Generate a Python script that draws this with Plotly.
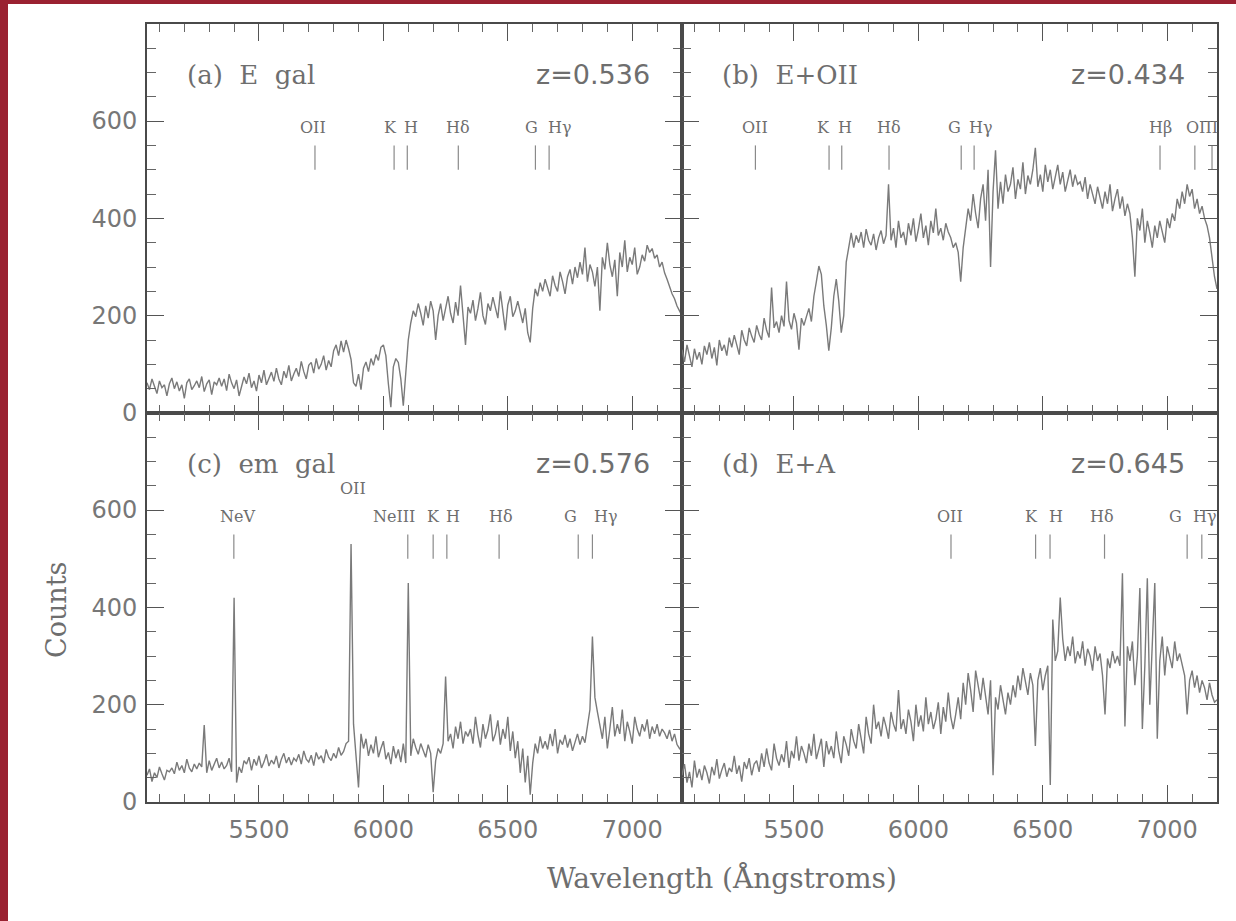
import numpy as np
import plotly.graph_objects as go

# ---------------- data ----------------
wl_start = 5050
wl_step = 10

counts_a = [62, 48, 70, 55, 40, 66, 52, 58, 35, 60,
            72, 50, 64, 45, 58, 30, 62, 70, 48, 56,
            66, 52, 75, 44, 60, 68, 38, 64, 58, 72,
            55, 70, 46, 80, 62, 50, 68, 35, 58, 74,
            60, 82, 52, 66, 45, 78, 62, 88, 58, 70,
            84, 65, 92, 70, 58, 86, 72, 98, 66, 80,
            92, 75, 106, 85, 70, 98, 104, 82, 112, 90,
            100, 118, 88, 108, 95, 128, 140, 118, 148, 125,
            150, 132, 110, 62, 55, 80, 48, 92, 105, 85,
            112, 98, 120, 108, 135, 140, 118, 60, 12, 95,
            112, 104, 70, 15, 90, 150, 185, 210, 198, 225,
            205, 180, 220, 195, 230, 210, 150, 200, 225, 190,
            215, 240, 205, 185, 228, 200, 262, 195, 140, 218,
            205, 232, 190, 215, 248, 200, 182, 225, 210, 238,
            215, 195, 250, 205, 170, 222, 240, 198, 210, 230,
            205, 185, 215, 165, 145, 215, 255, 240, 268, 250,
            275, 258, 240, 282, 262, 250, 290, 270, 245, 280,
            295, 265, 300, 278, 310, 285, 340, 270, 305, 290,
            260, 300, 210, 320, 295, 350, 305, 280, 315, 240,
            330, 300, 355, 290, 320, 305, 340, 285, 300, 325,
            312, 345, 330, 338, 318, 325, 300, 310, 288, 275,
            260, 245, 235, 220, 210, 200]

counts_b = [130, 105, 140, 118, 95, 132, 110, 125, 100, 138,
            120, 145, 112, 135, 98, 150, 128, 140, 118, 155,
            135, 160, 142, 120, 170, 150, 138, 175, 158, 145,
            180, 162, 150, 195, 170, 155, 258, 175, 188, 165,
            200, 178, 270, 190, 172, 205, 185, 130, 195, 180,
            198, 215, 188, 240, 270, 302, 285, 220, 180, 128,
            175, 240, 275, 230, 165, 200, 310, 345, 370, 340,
            365, 350, 372, 340, 378, 355, 345, 368, 335, 360,
            375, 348, 365, 470, 355, 380, 340, 395, 360, 372,
            345, 390, 365, 400, 352, 378, 410, 360, 385, 345,
            395, 370, 420, 365, 380, 355, 390, 372, 360, 340,
            350, 330, 270, 340, 380, 420, 395, 450, 410, 380,
            440, 470, 395, 500, 300, 455, 540, 420, 475, 430,
            490, 455, 470, 505, 440, 480, 460, 515, 450, 488,
            470, 500, 545, 465, 490, 455, 510, 475, 500, 460,
            485, 510, 470, 495, 455, 480, 500, 465, 490, 470,
            475, 455, 485, 440, 470, 450, 430, 465, 445, 420,
            455, 430, 470, 415, 440, 460, 420, 445, 405, 430,
            410, 360, 280, 400, 375, 420, 350, 395, 370, 340,
            385, 360, 395, 375, 350, 400, 380, 410, 395, 440,
            420, 455, 430, 470, 445, 460, 420, 440, 410, 425,
            400, 385, 360, 320, 280, 255]

counts_c = [55, 68, 42, 60, 50, 72, 58, 45, 65, 62,
            70, 58, 82, 65, 75, 60, 88, 70, 62, 78,
            68, 80, 72, 158, 60, 85, 65, 78, 90, 70,
            82, 68, 75, 90, 62, 420, 40, 72, 60, 85,
            78, 92, 65, 88, 75, 95, 70, 82, 98, 74,
            86, 78, 95, 70, 88, 100, 80, 92, 76, 90,
            84, 98, 78, 105, 88, 82, 96, 75, 102, 88,
            95, 80, 108, 92, 85, 100, 90, 112, 96, 104,
            120, 125, 530, 160, 85, 30, 140, 110, 130, 95,
            118, 100, 135, 92, 110, 125, 88, 102, 78, 115,
            90, 108, 82, 120, 80, 450, 95, 130, 112, 98,
            120, 105, 92, 118, 100, 20, 85, 110, 100, 120,
            258, 125, 140, 110, 155, 130, 165, 120, 145, 135,
            150, 120, 175, 138, 112, 160, 130, 148, 180, 125,
            140, 168, 118, 150, 130, 175, 105, 145, 90, 125,
            60, 110, 40, 95, 15, 80, 120, 100, 135, 110,
            125, 108, 140, 115, 150, 100, 128, 118, 138, 112,
            130, 105, 125, 140, 118, 135, 122, 160, 190, 340,
            215, 185, 160, 130, 175, 110, 150, 195, 135, 160,
            140, 190, 125, 165, 145, 120, 175, 150, 135, 160,
            145, 170, 130, 155, 140, 160, 135, 150, 142, 130,
            148, 125, 140, 118, 110, 105]

counts_d = [55, 78, 40, 62, 30, 85, 50, 68, 45, 75,
            60, 38, 72, 55, 88, 48, 66, 80, 52, 70,
            62, 95, 58, 75, 42, 82, 68, 90, 55, 78,
            85, 62, 100, 72, 110, 80, 65, 120, 90, 75,
            98, 82, 125, 70, 105, 90, 135, 85, 115, 100,
            80, 120, 95, 140, 88, 110, 130, 72, 125, 98,
            115, 90, 145, 105, 80, 135, 118, 95, 150, 125,
            110, 160, 130, 100, 175, 140, 120, 200, 150, 165,
            135, 175, 155, 130, 185, 160, 145, 230, 150, 170,
            140, 190, 165, 125, 200, 155, 178, 145, 215, 160,
            185, 150, 170, 205, 140, 195, 165, 225, 175, 150,
            180, 215, 170, 245, 200, 265, 230, 185, 270, 240,
            210, 255, 220, 180, 250, 55, 215, 190, 240, 205,
            180, 225, 200, 240, 215, 260, 230, 275, 245, 220,
            265, 240, 115, 250, 275, 230, 260, 280, 35, 375,
            290, 310, 420, 335, 290, 320, 300, 340, 285, 310,
            295, 330, 280, 315, 300, 270, 320, 290, 305, 260,
            180, 295, 275, 310, 285, 300, 280, 470, 155, 320,
            290, 330, 240, 300, 440, 150, 280, 460, 200, 310,
            450, 130, 290, 340, 260, 320, 300, 275, 330, 290,
            305, 280, 260, 180, 250, 270, 235, 260, 225, 250,
            235, 210, 245, 220, 205, 210]

panel_titles = ["(a)  E  gal", "(b)  E+OII", "(c)  em  gal", "(d)  E+A"]
redshift_labels = ["z=0.536", "z=0.434", "z=0.576", "z=0.645"]

# observed positions of the marked spectral features (Angstrom)
mark_wl_a = [5725, 6043, 6096, 6301, 6611, 6666]
mark_wl_b = [5345, 5641, 5692, 5882, 6172, 6224, 6971, 7111, 7180]
mark_wl_c = [5399, 6098, 6200, 6255, 6465, 6783, 6840]
mark_wl_d = [6131, 6471, 6529, 6748, 7080, 7139]

label_txt_a = ["OII", "K", "H", "Hδ", "G", "Hγ"]
label_wl_a = [5718, 6027, 6111, 6301, 6597, 6708]
label_txt_b = ["OII", "K", "H", "Hδ", "G", "Hγ", "Hβ", "OIII"]
label_wl_b = [5345, 5619, 5705, 5882, 6147, 6252, 6971, 7140]
label_txt_c = ["NeV", "OII", "NeIII", "K", "H", "Hδ", "G", "Hγ"]
label_wl_c = [5415, 5876, 6041, 6202, 6278, 6471, 6750, 6895]
label_lev_c = [586, 645, 586, 586, 586, 586, 586, 586]
label_txt_d = ["OII", "K", "H", "Hδ", "G", "Hγ"]
label_wl_d = [6125, 6453, 6553, 6738, 7035, 7152]

mark_lo, mark_hi = 500, 550
label_level = 587

# ---------------- figure ----------------
TEXT = "#6e6e6e"
LINE = "#4a4a4a"
SERIF = "DejaVu Serif"
SANS = "DejaVu Sans"

fig = go.Figure()

panels = [
    ("x", "y", counts_a, mark_wl_a, label_txt_a, label_wl_a, None),
    ("x2", "y2", counts_b, mark_wl_b, label_txt_b, label_wl_b, None),
    ("x3", "y3", counts_c, mark_wl_c, label_txt_c, label_wl_c, label_lev_c),
    ("x4", "y4", counts_d, mark_wl_d, label_txt_d, label_wl_d, None),
]

annotations = []
for k, (xa, ya, cnt, mwl, ltxt, lwl, llev) in enumerate(panels):
    wl = wl_start + wl_step * np.arange(len(cnt))
    fig.add_trace(go.Scatter(x=wl, y=cnt, xaxis=xa, yaxis=ya, mode="lines",
                             line=dict(color="#7a7a7a", width=1.4),
                             showlegend=False, hoverinfo="skip"))
    mx, my = [], []
    for w in mwl:
        mx += [w, w, None]
        my += [mark_lo, mark_hi, None]
    fig.add_trace(go.Scatter(x=mx, y=my, xaxis=xa, yaxis=ya, mode="lines",
                             line=dict(color="#8a8a8a", width=1.2),
                             showlegend=False, hoverinfo="skip"))
    for i, (t, w) in enumerate(zip(ltxt, lwl)):
        lev = llev[i] if llev else label_level
        annotations.append(dict(x=w, y=lev, xref=xa, yref=ya, text=t,
                                showarrow=False, xanchor="center", yanchor="middle",
                                font=dict(family=SERIF, size=16, color=TEXT)))
    annotations.append(dict(x=5203, y=695, xref=xa, yref=ya, text=panel_titles[k],
                            showarrow=False, xanchor="left", yanchor="middle",
                            font=dict(family=SERIF, size=26, color=TEXT)))
    annotations.append(dict(x=7080, y=695, xref=xa, yref=ya, text=redshift_labels[k],
                            showarrow=False, xanchor="right", yanchor="middle",
                            font=dict(family=SANS, size=27, color=TEXT)))

annotations.append(dict(x=-0.084, y=0.247, xref="paper", yref="paper", text="Counts",
                        showarrow=False, textangle=-90, xanchor="center", yanchor="middle",
                        font=dict(family=SERIF, size=27, color=TEXT)))
annotations.append(dict(x=0.5374, y=-0.0977, xref="paper", yref="paper",
                        text="Wavelength (Ångstroms)", showarrow=False,
                        xanchor="center", yanchor="middle",
                        font=dict(family=SERIF, size=28, color=TEXT)))


def xax(domain, anchor, labels):
    return dict(domain=domain, anchor=anchor, range=[5050, 7200],
                tick0=0, dtick=500, ticks="inside", ticklen=17, tickwidth=1.2,
                tickcolor="#555", showline=True, linecolor=LINE, linewidth=2,
                mirror="ticks", showgrid=False, zeroline=False,
                showticklabels=labels, ticklabelstandoff=5,
                tickfont=dict(family=SANS, size=24, color="#777"),
                minor=dict(ticks="inside", ticklen=8, tickwidth=1, tickcolor="#666",
                           tick0=0, dtick=100, showgrid=False))


def yax(domain, anchor, labels):
    return dict(domain=domain, anchor=anchor, range=[0, 799.5],
                tick0=0, dtick=200, ticks="inside", ticklen=17, tickwidth=1.2,
                tickcolor="#555", showline=True, linecolor=LINE, linewidth=2,
                mirror="ticks", showgrid=False, zeroline=False,
                showticklabels=labels, ticklabelstandoff=3,
                tickfont=dict(family=SANS, size=24, color="#777"),
                minor=dict(ticks="inside", ticklen=9, tickwidth=1, tickcolor="#666",
                           tick0=0, dtick=50, showgrid=False))


RED = "#9a2131"
shapes = [
    dict(type="rect", xref="paper", yref="paper", x0=-0.1374, x1=-0.1299,
         y0=-0.153, y1=1.031, fillcolor=RED, line=dict(width=0), layer="above"),
    dict(type="rect", xref="paper", yref="paper", x0=-0.1374, x1=1.018,
         y0=1.0257, y1=1.031, fillcolor=RED, line=dict(width=0), layer="above"),
]

fig.update_layout(
    width=1236, height=921,
    margin=dict(l=147, r=19, t=24, b=119),
    paper_bgcolor="white", plot_bgcolor="white",
    showlegend=False,
    xaxis=xax([0, 0.5], "y", False),
    xaxis2=xax([0.5, 1], "y2", False),
    xaxis3=xax([0, 0.5], "y3", True),
    xaxis4=xax([0.5, 1], "y4", True),
    yaxis=yax([0.5, 1], "x", True),
    yaxis2=yax([0.5, 1], "x2", False),
    yaxis3=yax([0, 0.5], "x3", True),
    yaxis4=yax([0, 0.5], "x4", False),
    annotations=annotations,
    shapes=shapes,
)

fig.write_html("out.html", config={"displayModeBar": False},
               post_script="document.body.style.margin='0';document.body.style.overflow='hidden';")
